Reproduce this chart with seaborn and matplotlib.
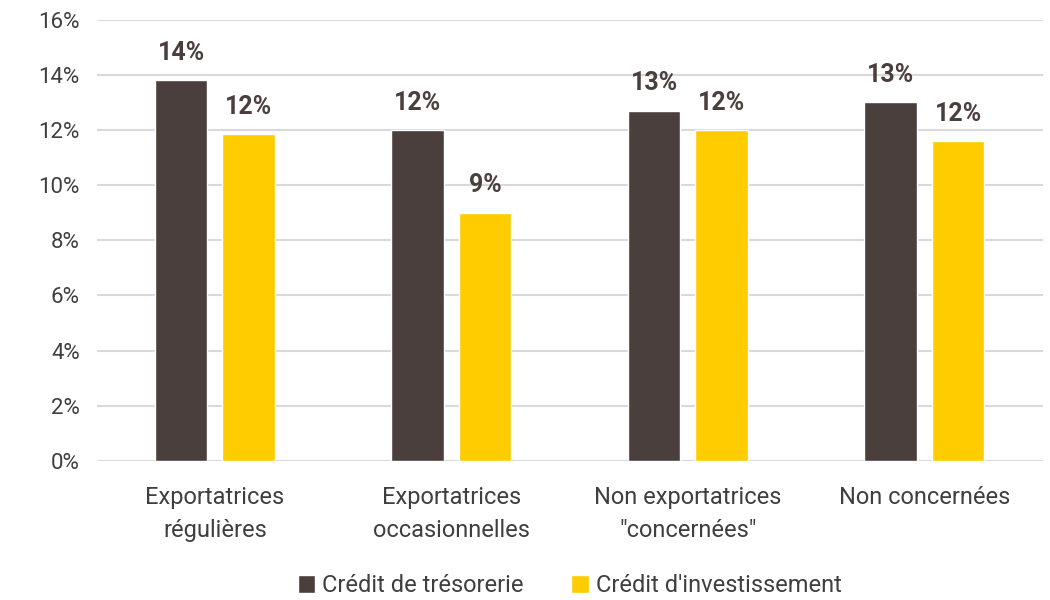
import pandas as pd
import matplotlib.pyplot as plt
import seaborn as sns
from matplotlib.ticker import PercentFormatter

categories = ['Exportatrices\nrégulières', 'Exportatrices\noccasionnelles',
              'Non exportatrices\n"concernées"', 'Non concernées']
tresorerie = [13.8, 12.0, 12.7, 13.0]
investissement = [11.85, 9.0, 12.0, 11.6]
series_names = ['Crédit de trésorerie', "Crédit d'investissement"]

dark = '#4B3F3D'
yellow = '#FFCC00'

df = pd.DataFrame({
    'cat': categories * 2,
    'val': tresorerie + investissement,
    'serie': [series_names[0]] * 4 + [series_names[1]] * 4,
})

sns.set_style('white')
plt.rcParams['font.family'] = ['Roboto', 'DejaVu Sans']

fig, ax = plt.subplots(figsize=(10.5, 6), dpi=100)
sns.barplot(data=df, x='cat', y='val', hue='serie', order=categories,
            hue_order=series_names, palette=[dark, yellow],
            width=0.57, gap=0.22, saturation=1, ax=ax)

for cont in ax.containers:
    ax.bar_label(cont, labels=[f'{v:.0f}%' for v in cont.datavalues],
                 padding=11, fontsize=18, fontweight='bold', color=dark)

ax.set_ylim(0, 16)
ax.set_yticks(range(0, 17, 2))
ax.yaxis.set_major_formatter(PercentFormatter(decimals=0))
ax.grid(axis='y', color='#D9D9D9', linewidth=1.5)
ax.set_axisbelow(True)
for s in ax.spines.values():
    s.set_visible(False)
ax.set_xlabel('')
ax.set_ylabel('')
ax.tick_params(axis='both', length=0, labelcolor='#3F3F3F')
ax.tick_params(axis='y', labelsize=16, pad=12)
ax.tick_params(axis='x', labelsize=17, pad=18)
for lbl in ax.get_xticklabels():
    lbl.set_linespacing(1.55)
ax.set_xlim(-0.5, 3.5)

ax.legend(loc='upper center', bbox_to_anchor=(0.5, -0.225), ncol=2, frameon=False,
          fontsize=17, handlelength=0.75, handleheight=0.75, handletextpad=0.3,
          columnspacing=2.0, labelcolor='#3F3F3F', borderpad=0.1)

fig.subplots_adjust(left=0.092, right=0.993, top=0.967, bottom=0.232)
fig.savefig('out.png', dpi=100)
